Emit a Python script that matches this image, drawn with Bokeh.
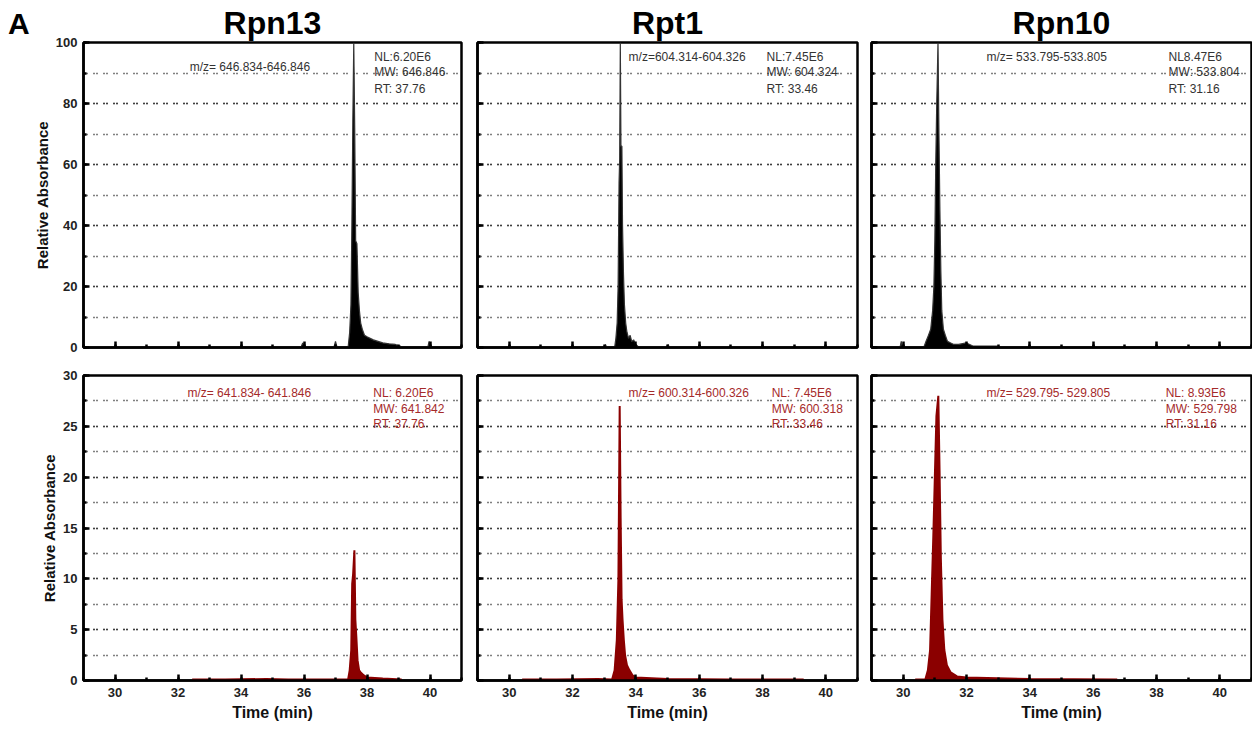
from bokeh.plotting import figure
from bokeh.layouts import gridplot, row
from bokeh.models import Label, SingleIntervalTicker, Range1d, CustomLabelingPolicy, Div
from bokeh.embed import file_html
from bokeh.resources import INLINE

FONT = "Liberation Sans"

proteins = ["Rpn13", "Rpt1", "Rpn10"]

# ---- top row (black traces), relative absorbance 0-100 ----
rpn13_top_t = [29.1, 35.90, 35.96, 36.02, 36.95, 37.00, 37.05, 37.40, 37.45, 37.49, 37.52, 37.55, 37.58,
               37.61, 37.64, 37.68, 37.72, 37.76, 37.80, 37.85, 37.92, 38.00, 38.10, 38.20, 38.35,
               38.50, 38.70, 38.90, 39.05, 39.12, 39.93, 39.97, 40.01, 40.9]
rpn13_top_i = [0, 0, 1.5, 0, 0, 2, 0, 0, 5, 14, 40, 74, 100,
               72, 35, 34, 18, 12, 8, 6, 4, 3.5, 3, 2.5, 2,
               1.5, 1.2, 1, 0.5, 0, 0, 2, 0, 0]

rpt1_top_t = [29.1, 33.00, 33.04, 33.08, 33.33, 33.37, 33.41, 33.44, 33.47, 33.49, 33.51, 33.53,
              33.56, 33.58, 33.61, 33.64, 33.68, 33.72, 33.77, 33.82, 33.87, 33.93, 34.00, 34.10,
              34.98, 35.02, 35.06, 35.97, 36.01, 36.05, 40.9]
rpt1_top_i = [0, 0, 1, 0, 0, 3, 8, 20, 54, 62, 100, 66,
              66, 40, 24, 14, 8, 5, 3, 4, 2, 2.5, 1, 0,
              0, 1, 0, 0, 1, 0, 0]

rpn10_top_t = [29.1, 29.90, 29.94, 29.98, 30.65, 30.72, 30.80, 30.87, 30.93, 30.97, 31.00, 31.03,
               31.06, 31.10, 31.13, 31.16, 31.19, 31.22, 31.27, 31.33, 31.40, 31.50, 31.60, 31.75,
               32.00, 32.20, 32.60, 33.00, 33.10, 40.9]
rpn10_top_i = [0, 0, 2, 0, 0, 2, 4, 6, 12, 20, 35, 61,
               80, 100, 70, 45, 25, 12, 6, 4, 2, 1.5, 1, 1,
               1.5, 0.5, 0.5, 0.5, 0, 0]

# ---- bottom row (red traces), relative absorbance 0-30 ----
rpn13_bot_t = [32.45, 33.5, 34.8, 35.5, 36.5, 37.40, 37.45, 37.50, 37.53, 37.56, 37.60, 37.63,
               37.66, 37.70, 37.75, 37.80, 37.90, 38.00, 38.50, 39.10]
rpn13_bot_i = [0.1, 0.1, 0.15, 0.1, 0.1, 0.1, 1, 3, 9.5, 10.5, 12.8, 6,
               4.4, 2, 1, 0.8, 0.5, 0.3, 0.2, 0.1]

rpt1_bot_t = [30.41, 31.5, 32.8, 33.25, 33.33, 33.40, 33.45, 33.49, 33.52, 33.55, 33.58, 33.62,
              33.66, 33.72, 33.80, 33.90, 34.00, 35.0, 37.0, 39.30]
rpt1_bot_i = [0.1, 0.1, 0.15, 0.1, 1, 4, 10, 27, 16, 8, 6, 4,
              2.5, 1.5, 1, 0.5, 0.3, 0.15, 0.1, 0.1]

rpn10_bot_t = [30.38, 30.70, 30.78, 30.85, 30.90, 30.95, 31.00, 31.05, 31.11, 31.15, 31.19, 31.24,
               31.30, 31.38, 31.50, 31.70, 32.00, 34.0, 36.76]
rpn10_bot_i = [0.1, 0.1, 1, 3, 8.5, 14, 20, 26, 28, 20.5, 12, 6,
               3, 1.5, 0.8, 0.4, 0.3, 0.15, 0.1]

top_times = [rpn13_top_t, rpt1_top_t, rpn10_top_t]
top_vals = [rpn13_top_i, rpt1_top_i, rpn10_top_i]
bot_times = [rpn13_bot_t, rpt1_bot_t, rpn10_bot_t]
bot_vals = [rpn13_bot_i, rpt1_bot_i, rpn10_bot_i]

top_mz = ["m/z= 646.834-646.846", "m/z=604.314-604.326", "m/z= 533.795-533.805"]
top_info = [["NL:6.20E6", "MW: 646.846", "RT: 37.76"],
            ["NL:7.45E6", "MW: 604.324", "RT: 33.46"],
            ["NL8.47E6", "MW: 533.804", "RT: 31.16"]]
bot_mz = ["m/z= 641.834- 641.846", "m/z= 600.314-600.326", "m/z= 529.795- 529.805"]
bot_info = [["NL:  6.20E6", "MW: 641.842", "RT: 37.76"],
            ["NL: 7.45E6", "MW: 600.318", "RT: 33.46"],
            ["NL: 8.93E6", "MW: 529.798", "RT: 31.16"]]

# layout (positions in data units of each panel)
top_mz_x = [32.37, 33.77, 32.63]
top_nl_x = [38.23, 38.13, 38.38]
top_mz_y = [92.1, 95.4, 95.4]
top_info_y = [95.4, 90.2, 84.9]
bot_mz_x = [32.30, 33.77, 32.63]
bot_nl_x = [38.20, 38.29, 38.29]
bot_mz_y = 28.3
bot_info_y = [28.3, 26.7, 25.2]

FW = [378, 380, 380]
FH = 305
LEFT = [50, 8, 7]
RIGHT = [8, 7, 1]

hide_labels = CustomLabelingPolicy(code="return []")


def make_panel(col, row_i):
    top = row_i == 0
    ymax = 100 if top else 30
    color = "black" if top else "#8b0000"
    txt_color = "#333333" if top else "#a52a2a"
    p = figure(frame_width=FW[col], frame_height=FH,
               x_range=Range1d(29, 41), y_range=Range1d(0, ymax),
               output_backend="svg", toolbar_location=None,
               min_border_left=LEFT[col], min_border_right=RIGHT[col],
               min_border_top=42 if top else 14, min_border_bottom=14 if top else 44,
               background_fill_color="white", border_fill_color="white")
    if top:
        p.title.text = proteins[col]
        p.title.align = "center"
        p.title.text_font = FONT
        p.title.text_font_size = "32px"
        p.title.text_font_style = "bold"
        p.title.text_color = "black"
        p.title.standoff = 4

    p.yaxis.ticker = SingleIntervalTicker(interval=20 if top else 5, num_minor_ticks=2)
    p.xaxis.ticker = SingleIntervalTicker(interval=2, num_minor_ticks=2)
    for ax in p.axis:
        ax.major_tick_in = 6
        ax.major_tick_out = 0
        ax.minor_tick_in = 3
        ax.minor_tick_out = 0
        ax.major_tick_line_width = 2.5
        ax.minor_tick_line_width = 2.5
        ax.major_tick_line_color = "black"
        ax.minor_tick_line_color = "black"
        ax.axis_line_width = 2.5
        ax.axis_line_color = "black"
        ax.major_label_text_font = FONT
        ax.major_label_text_font_style = "bold"
        ax.major_label_text_font_size = "13px"
        ax.major_label_text_color = "#222222"
        ax.axis_label_text_font = FONT
        ax.axis_label_text_font_style = "bold"
        ax.axis_label_text_color = "#111111"
    p.yaxis.major_label_standoff = 6
    p.xaxis.major_label_standoff = 7
    if col == 0:
        p.yaxis.axis_label = "Relative Absorbance"
        p.yaxis.axis_label_text_font_size = "15px"
        p.yaxis.axis_label_standoff = 2
    else:
        p.yaxis.major_label_policy = hide_labels
        p.yaxis.major_label_text_font_size = "0px"
        p.yaxis.major_label_standoff = 0
    if not top:
        p.xaxis.axis_label = "Time (min)"
        p.xaxis.axis_label_text_font_size = "16px"
        p.xaxis.axis_label_standoff = 4
    else:
        p.xaxis.major_label_policy = hide_labels
        p.xaxis.major_label_text_font_size = "0px"
        p.xaxis.major_label_standoff = 0

    p.xgrid.visible = False
    p.ygrid.grid_line_color = "black"
    p.ygrid.grid_line_dash = "1 2 1 6"
    p.ygrid.grid_line_width = 1.3
    p.ygrid.minor_grid_line_color = "black"
    p.ygrid.minor_grid_line_dash = "1 2 1 6"
    p.ygrid.minor_grid_line_width = 1.3

    p.outline_line_color = "black"
    p.outline_line_width = 2.5
    p.outline_line_alpha = 1.0

    t = top_times[col] if top else bot_times[col]
    v = top_vals[col] if top else bot_vals[col]
    p.varea(x=t, y1=[0] * len(t), y2=v, fill_color=color)
    p.line(t, v, line_color=color if not top else "#333333", line_width=1.2 if top else 2)

    if top:
        mzx, mzy, nlx, iy = top_mz_x[col], top_mz_y[col], top_nl_x[col], top_info_y
        mz, info = top_mz[col], top_info[col]
    else:
        mzx, mzy, nlx, iy = bot_mz_x[col], bot_mz_y, bot_nl_x[col], bot_info_y
        mz, info = bot_mz[col], bot_info[col]
    p.add_layout(Label(x=mzx, y=mzy, text=mz, text_font=FONT,
                       text_font_size="12px", text_color=txt_color, text_baseline="middle"))
    for k in range(3):
        p.add_layout(Label(x=nlx, y=iy[k], text=info[k], text_font=FONT,
                           text_font_size="12px", text_color=txt_color, text_baseline="middle"))
    return p


panels_top = [make_panel(c, 0) for c in range(3)]
panels_bot = [make_panel(c, 1) for c in range(3)]

grid = gridplot([panels_top, panels_bot], toolbar_location=None)

panel_letter = Div(text="A", width=30, height=42, margin=0,
                   styles={"font-family": FONT, "font-size": "30px", "font-weight": "bold",
                           "line-height": "30px", "padding-left": "8px", "padding-top": "9px",
                           "color": "black"})

layout = row(panel_letter, grid)

open("out.html", "w").write(file_html(layout, INLINE))
